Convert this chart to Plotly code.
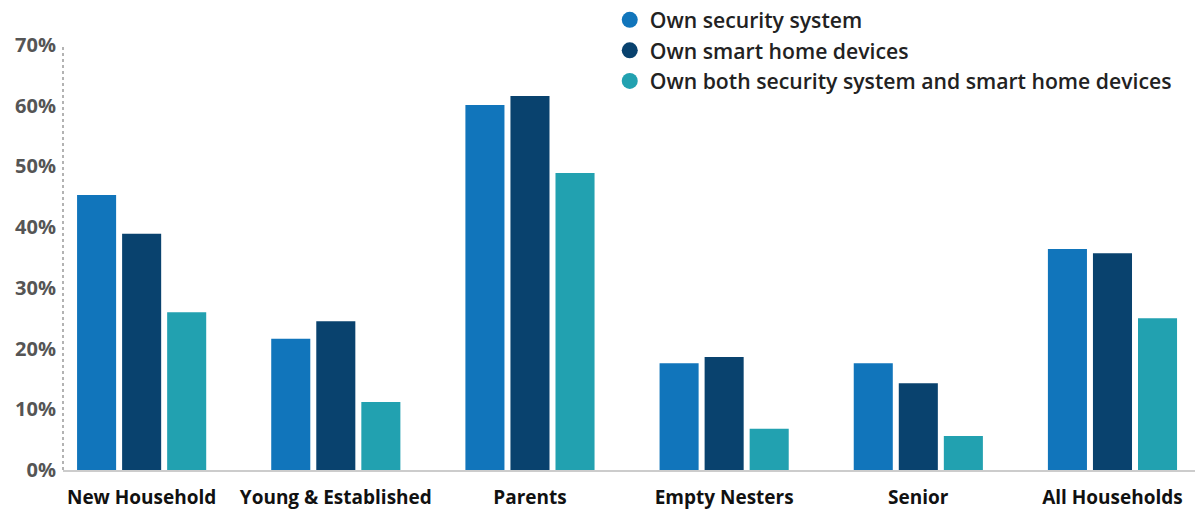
import plotly.graph_objects as go

categories = ["New Household", "Young & Established", "Parents",
              "Empty Nesters", "Senior", "All Households"]
security_system = [45.3, 21.6, 60.1, 17.6, 17.6, 36.4]
smart_home = [38.9, 24.5, 61.6, 18.6, 14.3, 35.7]
both = [26.0, 11.2, 48.9, 6.8, 5.6, 25.0]

series_names = ["Own security system", "Own smart home devices",
                "Own both security system and smart home devices"]
series_values = [security_system, smart_home, both]
colors = ["#1175BB", "#09426E", "#22A1B0"]

y_ticks = [0, 10, 20, 30, 40, 50, 60, 70]
y_tick_labels = [f"{v}%" for v in y_ticks]

fig = go.Figure()

for name, vals, col in zip(series_names, series_values, colors):
    fig.add_trace(go.Bar(
        x=categories, y=vals, name=name, marker_color=col,
        marker_line_width=0, showlegend=False,
        hovertemplate="%{x}<br>%{y:.1f}%<extra>" + name + "</extra>",
    ))

# round legend swatches
for name, col in zip(series_names, colors):
    fig.add_trace(go.Scatter(
        x=[None], y=[None], mode="markers", name=name,
        marker=dict(symbol="circle", size=16, color=col),
        showlegend=True,
    ))

# dotted vertical axis line
fig.add_shape(type="line", xref="paper", yref="y", x0=0, x1=0, y0=0, y1=70,
              line=dict(color="#9a9a9a", width=1.5, dash="dot"))

fig.update_layout(
    width=1199, height=510,
    margin=dict(l=63, r=4, t=45, b=40, autoexpand=False),
    plot_bgcolor="white", paper_bgcolor="white",
    barmode="group", bargap=0.304, bargroupgap=0.133,
    font=dict(family="Open Sans", color="#222222"),
    legend=dict(
        x=0.483, y=1.107, xanchor="left", yanchor="top",
        font=dict(size=21.2, color="#222222", weight=600),
        bgcolor="rgba(0,0,0,0)", tracegroupgap=0, itemclick=False,
    ),
    xaxis=dict(
        type="category", range=[-0.405, 5.425], automargin=False,
        showline=True, linecolor="#cccccc", linewidth=2,
        ticks="", showgrid=False, ticklabelstandoff=9,
        tickfont=dict(size=19, color="#111111", weight="bold"),
    ),
    yaxis=dict(
        range=[0, 70], tickvals=y_ticks, ticktext=y_tick_labels,
        automargin=False,
        showgrid=False, zeroline=False, showline=False, ticks="",
        ticklabelstandoff=6,
        tickfont=dict(size=20, color="#555555", weight="bold"),
    ),
)

fig.write_html("out.html")
